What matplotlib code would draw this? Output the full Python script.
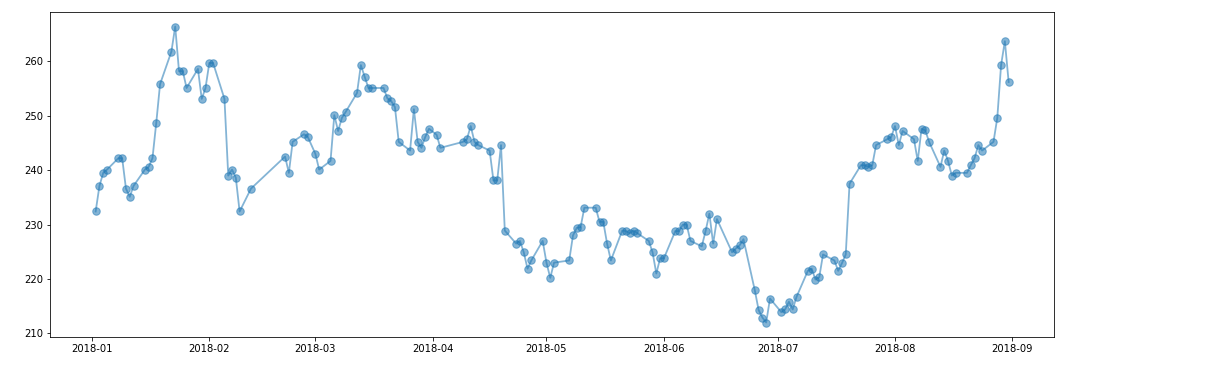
import matplotlib
matplotlib.use("Agg")
import matplotlib.pyplot as plt
import matplotlib.dates as mdates
import numpy as np
import pandas as pd

# dates and values
dates = [
    "2018-01-02", "2018-01-03", "2018-01-04", "2018-01-05", "2018-01-08", "2018-01-09",
    "2018-01-10", "2018-01-11", "2018-01-12", "2018-01-15", "2018-01-16", "2018-01-17",
    "2018-01-18", "2018-01-19", "2018-01-22", "2018-01-23", "2018-01-24", "2018-01-25",
    "2018-01-26", "2018-01-29", "2018-01-30", "2018-01-31",
    "2018-02-01", "2018-02-02", "2018-02-05", "2018-02-06", "2018-02-07", "2018-02-08",
    "2018-02-09", "2018-02-12", "2018-02-21", "2018-02-22", "2018-02-23", "2018-02-26",
    "2018-02-27",
    "2018-03-01", "2018-03-02", "2018-03-05", "2018-03-06", "2018-03-07", "2018-03-08",
    "2018-03-09", "2018-03-12", "2018-03-13", "2018-03-14", "2018-03-15", "2018-03-16",
    "2018-03-19", "2018-03-20", "2018-03-21", "2018-03-22", "2018-03-23", "2018-03-26",
    "2018-03-27", "2018-03-28", "2018-03-29", "2018-03-30", "2018-03-31",
    "2018-04-02", "2018-04-03", "2018-04-09", "2018-04-10", "2018-04-11", "2018-04-12",
    "2018-04-13", "2018-04-16", "2018-04-17", "2018-04-18", "2018-04-19", "2018-04-20",
    "2018-04-23", "2018-04-24", "2018-04-25", "2018-04-26", "2018-04-27", "2018-04-30",
    "2018-05-01", "2018-05-02", "2018-05-03", "2018-05-07", "2018-05-08", "2018-05-09",
    "2018-05-10", "2018-05-11", "2018-05-14", "2018-05-15", "2018-05-16", "2018-05-17",
    "2018-05-18", "2018-05-21", "2018-05-22", "2018-05-23", "2018-05-24", "2018-05-25",
    "2018-05-28", "2018-05-29", "2018-05-30", "2018-05-31",
    "2018-06-01", "2018-06-04", "2018-06-05", "2018-06-06", "2018-06-07", "2018-06-08",
    "2018-06-11", "2018-06-12", "2018-06-13", "2018-06-14", "2018-06-15", "2018-06-19",
    "2018-06-20", "2018-06-21", "2018-06-22", "2018-06-25", "2018-06-26", "2018-06-27",
    "2018-06-28", "2018-06-29",
    "2018-07-02", "2018-07-03", "2018-07-04", "2018-07-05", "2018-07-06", "2018-07-09",
    "2018-07-10", "2018-07-11", "2018-07-12", "2018-07-13", "2018-07-16", "2018-07-17",
    "2018-07-18", "2018-07-19", "2018-07-20", "2018-07-23", "2018-07-24", "2018-07-25",
    "2018-07-26", "2018-07-27", "2018-07-30", "2018-07-31",
    "2018-08-01", "2018-08-02", "2018-08-03", "2018-08-06", "2018-08-07", "2018-08-08",
    "2018-08-09", "2018-08-10", "2018-08-13", "2018-08-14", "2018-08-15", "2018-08-16",
    "2018-08-17", "2018-08-20", "2018-08-21", "2018-08-22", "2018-08-23", "2018-08-24",
    "2018-08-27", "2018-08-28", "2018-08-29", "2018-08-30", "2018-08-31",
]

values = [
    232.4, 237.1, 239.5, 240.1, 242.2, 242.2,
    236.6, 235.1, 237.1, 240.1, 240.6, 242.2,
    248.7, 255.8, 261.8, 266.4, 258.2, 258.2,
    255.1, 258.6, 253.1, 255.1,
    259.7, 259.7, 253.1, 239.0, 240.1, 238.6,
    232.4, 236.6, 242.5, 239.5, 245.2, 246.6,
    246.1,
    243.0, 240.1, 241.7, 250.1, 247.2, 249.6,
    250.7, 254.2, 259.3, 257.2, 255.1, 255.1,
    255.1, 253.2, 252.7, 251.6, 245.2, 243.6,
    251.2, 245.2, 244.1, 246.1, 247.6,
    246.5, 244.1, 245.2, 245.7, 248.1, 245.2,
    244.6, 243.6, 238.1, 238.1, 244.6, 228.9,
    226.5, 227.0, 224.9, 221.9, 223.4, 227.0,
    223.0, 220.2, 223.0, 223.4, 228.0, 229.4,
    229.5, 233.1, 233.1, 230.5, 230.5, 226.5,
    223.4, 228.9, 228.8, 228.4, 228.9, 228.4,
    227.0, 224.9, 221.0, 223.8,
    223.8, 228.8, 228.8, 230.0, 230.0, 227.0,
    226.0, 228.8, 232.0, 226.5, 231.0, 224.9,
    225.6, 226.2, 227.3, 217.9, 214.3, 212.9,
    212.0, 216.4,
    213.9, 214.4, 215.8, 214.4, 216.7, 221.5,
    221.9, 219.9, 220.3, 224.5, 223.4, 221.5,
    222.9, 224.5, 237.5, 240.9, 240.9, 240.6,
    240.9, 244.6, 245.7, 246.1,
    248.1, 244.6, 247.2, 245.7, 241.7, 247.6,
    247.3, 245.2, 240.6, 243.6, 241.7, 239.0,
    239.5, 239.5, 240.9, 242.2, 244.6, 243.6,
    245.2, 249.6, 259.3, 263.7, 256.2,
]

x = pd.to_datetime(dates)
y = np.array(values)

fig = plt.figure(figsize=(1206 / 72, 365 / 72), dpi=72)
ax = fig.add_axes([50 / 1206, 1 - 337.3 / 365, 1004.3 / 1206, 325.6 / 365])

ax.plot(x, y, "o-", color="C0", alpha=0.55, markersize=7.5, linewidth=1.8)

ax.xaxis.set_major_locator(mdates.MonthLocator())
ax.xaxis.set_major_formatter(mdates.DateFormatter("%Y-%m"))
ax.set_yticks([210, 220, 230, 240, 250, 260])

fig.savefig("out.png", dpi=72)
